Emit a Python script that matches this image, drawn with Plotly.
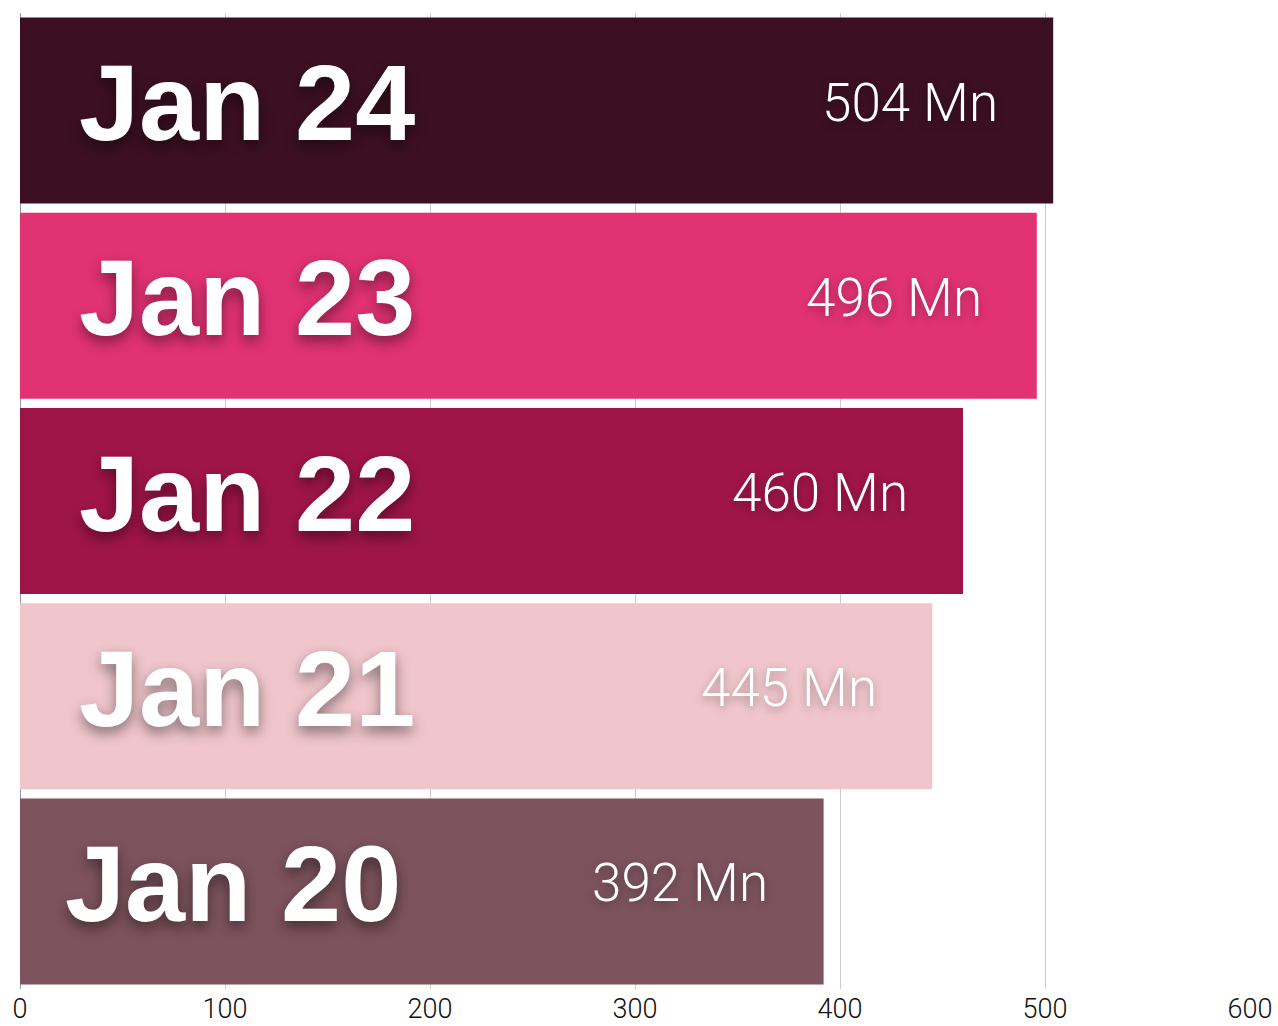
import plotly.graph_objects as go

categories = ["Jan 20", "Jan 21", "Jan 22", "Jan 23", "Jan 24"]
values = [392, 445, 460, 496, 504]
value_labels = ["392 Mn", "445 Mn", "460 Mn", "496 Mn", "504 Mn"]
colors = ["#7D535D", "#F0C6CC", "#A01548", "#E13274", "#3C1022"]
tick_vals = [0, 100, 200, 300, 400, 500, 600]

fig = go.Figure()
fig.add_trace(go.Bar(
    x=values, y=categories, orientation="h",
    marker=dict(color=colors, line=dict(width=0)),
    hoverinfo="skip",
))

annotations = []
for cat, val, lab in zip(categories, values, value_labels):
    annotations.append(dict(
        x=28 if cat != "Jan 20" else 21, y=cat, xref="x", yref="y",
        text=f"<b>{cat}</b>", showarrow=False, xanchor="left", yanchor="middle",
        yshift=8,
        font=dict(family="Liberation Sans, Arial", size=108, color="white",
                  shadow="0px 6px 14px rgba(0,0,0,0.45)"),
    ))
    annotations.append(dict(
        x=val - 26, y=cat, xref="x", yref="y",
        text=lab, showarrow=False, xanchor="right", yanchor="middle",
        yshift=8,
        font=dict(family="Roboto", size=53, color="white", weight=300,
                  shadow="0px 3px 10px rgba(0,0,0,0.35)"),
    ))

fig.update_layout(
    width=1278, height=1026,
    margin=dict(l=20, r=28, t=13, b=37),
    paper_bgcolor="white", plot_bgcolor="white",
    bargap=0.047,
    showlegend=False,
    annotations=annotations,
    xaxis=dict(
        range=[0, 600], tickvals=tick_vals, automargin=False,
        showgrid=True, gridcolor="#cccccc", gridwidth=1,
        zeroline=True, zerolinecolor="#999999", zerolinewidth=1,
        tickfont=dict(family="Roboto", size=27, color="#111111", weight=300),
        ticks="", showline=False, fixedrange=True, ticklabelstandoff=1,
    ),
    yaxis=dict(
        categoryorder="array", categoryarray=categories, automargin=False,
        showticklabels=False, showgrid=False, zeroline=False,
        showline=False, ticks="", fixedrange=True,
    ),
)

fig.write_html(
    "out.html",
    config={"displayModeBar": False, "staticPlot": True},
    post_script="document.body.style.margin='0';document.body.style.overflow='hidden';",
)
